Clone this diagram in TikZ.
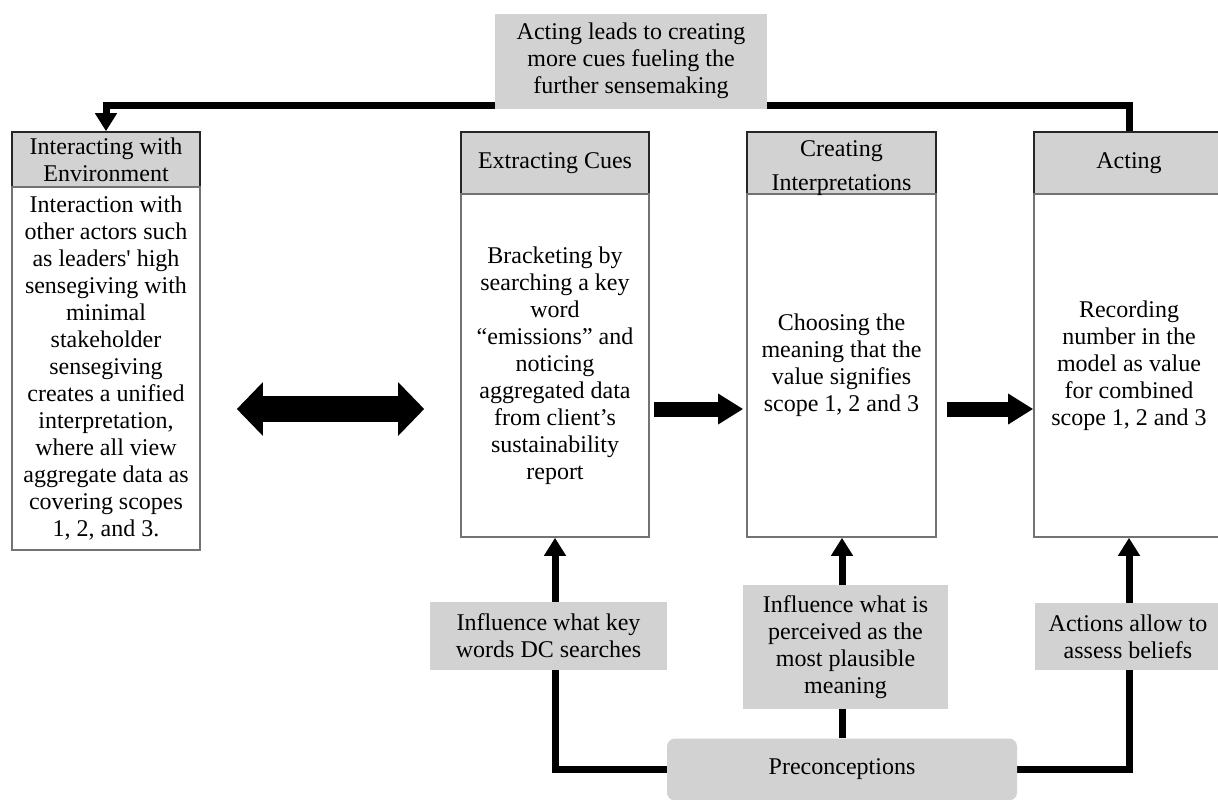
\documentclass[tikz,border=0pt]{standalone}
\usepackage{fontspec}
\setmainfont{Liberation Serif}
\usetikzlibrary{arrows.meta,backgrounds}
\begin{document}
\begin{tikzpicture}[x=0.5pt,y=-0.5pt,
  txt/.style={font=\fontsize{12}{13.5}\selectfont, align=center, inner sep=0pt},
  hdr/.style={txt, draw=black!85, fill=gray!35, line width=0.8pt},
  bodybox/.style={txt, draw=black!55, fill=white, line width=0.8pt},
  lbl/.style={txt, fill=gray!35},
  conn/.style={line width=3.5pt, line join=miter},
  vtip/.style={-{Triangle[width=10.5pt,length=9pt]}},
  midarrow/.style={line width=7.5pt, -{Triangle[width=14.5pt,length=12.5pt]}},
  dblarrow/.style={line width=13pt, {Triangle[width=26pt,length=13pt]}-{Triangle[width=26pt,length=13pt]}}
]
\useasboundingbox (0,0) rectangle (1218,799);

% left box
\node[hdr, minimum width=94pt, minimum height=27.5pt] (lefth) at (106,159.5) {Interacting with\\Environment};
\node[bodybox, minimum width=94pt, minimum height=181.5pt] (leftb) at (106,368.5) {Interaction with\\other actors such\\as leaders\textquotesingle\ high\\sensegiving with\\minimal\\stakeholder\\sensegiving\\creates a unified\\interpretation,\\where all view\\aggregate data as\\covering scopes\\1, 2, and 3.};

% extracting cues
\node[hdr, minimum width=94pt, minimum height=31pt] (exth) at (555,163) {Extracting Cues};
\node[bodybox, minimum width=94pt, minimum height=171.5pt] (extb) at (555,365.5) {Bracketing by\\searching a key\\word\\“emissions” and\\noticing\\aggregated data\\from client’s\\sustainability\\report};

% creating interpretations
\node[hdr, minimum width=94.5pt, minimum height=31pt] (creh) at (841.5,163) {};
\node[bodybox, minimum width=94.5pt, minimum height=171.5pt] (creb) at (841.5,365.5) {Choosing the\\meaning that the\\value signifies\\scope 1, 2 and 3};
\node[txt] (crehtxt) at (841.5,168.5) {Creating\\[3.5pt]Interpretations};

% acting
\node[hdr, minimum width=95pt, minimum height=31pt] (acth) at (1129,163) {Acting};
\node[bodybox, minimum width=95pt, minimum height=171.5pt] (actb) at (1129,365.5) {Recording\\number in the\\model as value\\for combined\\scope 1, 2 and 3};

% labels
\node[lbl, minimum width=136pt, minimum height=47.5pt] (toplbl) at (631,61) {Acting leads to creating\\more cues fueling the\\further sensemaking};
\node[lbl, minimum width=118.5pt, minimum height=34pt] (inf1) at (548.5,636) {Influence what key\\words DC searches};
\node[lbl, minimum width=102.5pt, minimum height=62pt] (inf2) at (845.5,647) {Influence what is\\perceived as the\\most plausible\\meaning};
\node[lbl, minimum width=93pt, minimum height=33.5pt] (inf3) at (1128,636.5) {Actions allow to\\assess beliefs};
\node[lbl, rounded corners=4pt, minimum width=175pt, minimum height=31pt] (pre) at (842,769.5) {Preconceptions};

\coordinate (toprow) at (0,105);
\coordinate (arrrow) at (0,409);

\begin{scope}[on background layer]
\draw[conn, vtip] (acth.north) -- (acth.north |- toprow) -- (lefth.north |- toprow) -- (lefth.north);
\draw[conn, vtip] (pre.west) -- (extb.south |- pre.west) -- (extb.south);
\draw[conn, vtip] (pre.north) -- (pre.north |- creb.south);
\draw[conn, vtip] (pre.east) -- (actb.south |- pre.east) -- (actb.south);
\end{scope}

\draw[dblarrow, shorten <=18pt, shorten >=18pt] (leftb.east |- arrrow) -- (extb.west |- arrrow);
\draw[midarrow, shorten <=2pt, shorten >=1.5pt] (extb.east |- arrrow) -- (creb.west |- arrrow);
\draw[midarrow, shorten <=5pt] (creb.east |- arrrow) -- (actb.west |- arrrow);
\end{tikzpicture}
\end{document}
